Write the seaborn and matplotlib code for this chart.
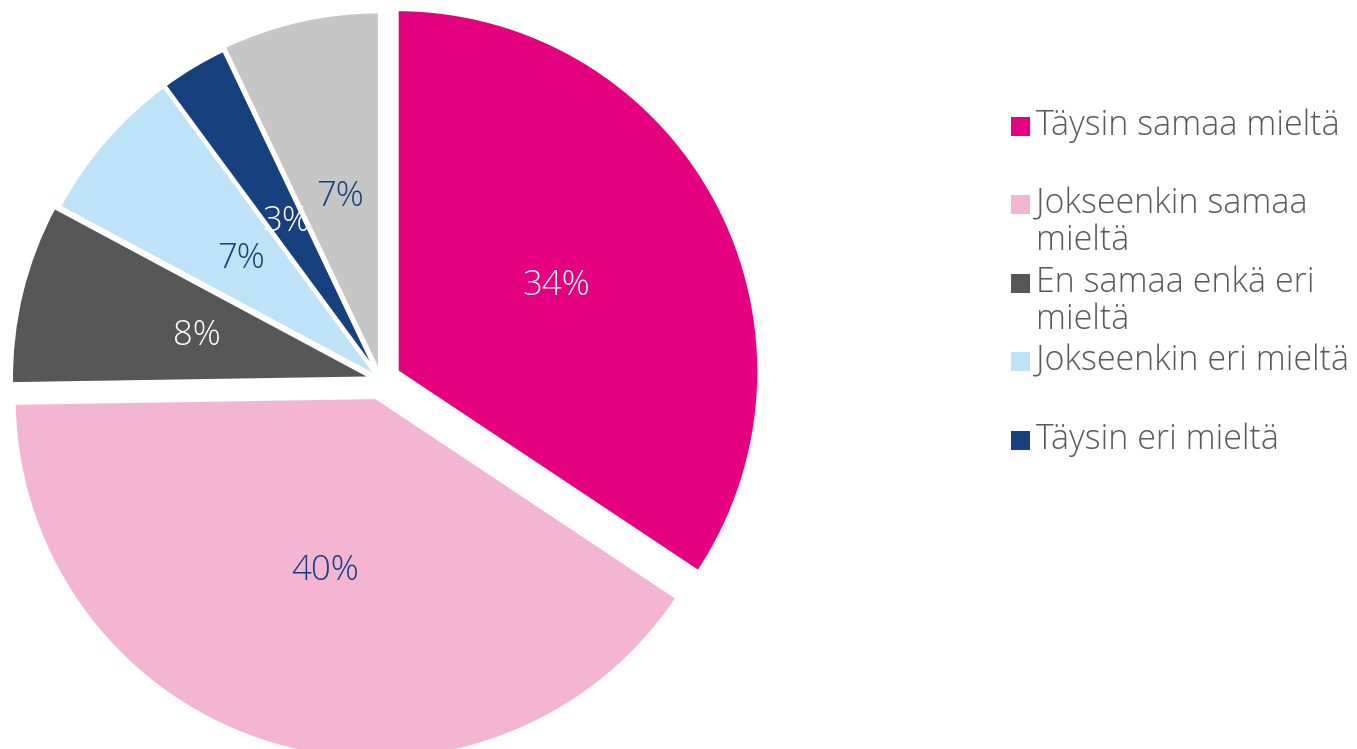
import matplotlib.pyplot as plt
import seaborn as sns
from matplotlib.patches import Rectangle

# Slice data (clockwise from 12 o'clock)
categories = [
    "Täysin samaa mieltä",
    "Jokseenkin samaa\nmieltä",
    "En samaa enkä eri\nmieltä",
    "Jokseenkin eri mieltä",
    "Täysin eri mieltä",
    "",
]
shares = [34, 40, 8, 7, 3, 7]
pct_labels = ["34%", "40%", "8%", "7%", "3%", "7%"]

colors = sns.color_palette(["#E4007F", "#F4B5D3", "#575757", "#BEE3F8", "#17407E", "#C6C6C6"])
label_colors = ["white", "#17407E", "white", "#17407E", "white", "#17407E"]
explode = [0.05, 0.05, 0.022, 0.01, 0.01, 0.018]

sns.set_theme(style="white")
plt.rcParams['font.family'] = ['Open Sans', 'DejaVu Sans']

W, H = 1357, 749
fig = plt.figure(figsize=(W / 100, H / 100), dpi=100)

# pie centre and radius in pixels
cx, cy, R = 381, 380, 362
half = 1.1 * R
ax = fig.add_axes([(cx - half) / W, (H - cy - half) / H, 2 * half / W, 2 * half / H])

wedges, texts = ax.pie(
    shares, colors=colors, explode=explode, startangle=90, counterclock=False,
    labels=pct_labels, labeldistance=0.5,
    wedgeprops=dict(edgecolor="white", linewidth=2.5),
    textprops=dict(fontsize=25, fontweight="light"),
)
for t, c in zip(texts, label_colors):
    t.set_color(c)
    t.set_ha("center")
    t.set_va("center")
ax.set_xlim(-1.1, 1.1)
ax.set_ylim(-1.1, 1.1)
ax.set_aspect("equal")
ax.axis("off")

# legend, laid out like the original (first-line centres in px from the top)
legend_y = [126, 204, 283, 361, 440]
line_h = 37
for i, lab in enumerate(categories[:5]):
    y = legend_y[i]
    fig.patches.append(Rectangle(((1011) / W, (H - y - 9.5) / H), 19 / W, 19 / H,
                                 transform=fig.transFigure, facecolor=colors[i],
                                 edgecolor="none"))
    for j, line in enumerate(lab.split("\n")):
        fig.text(1036 / W, (H - y - j * line_h) / H, line, fontsize=24.5,
                 fontweight="light", color="#595959", ha="left", va="center")

fig.savefig("out.png", dpi=100)
